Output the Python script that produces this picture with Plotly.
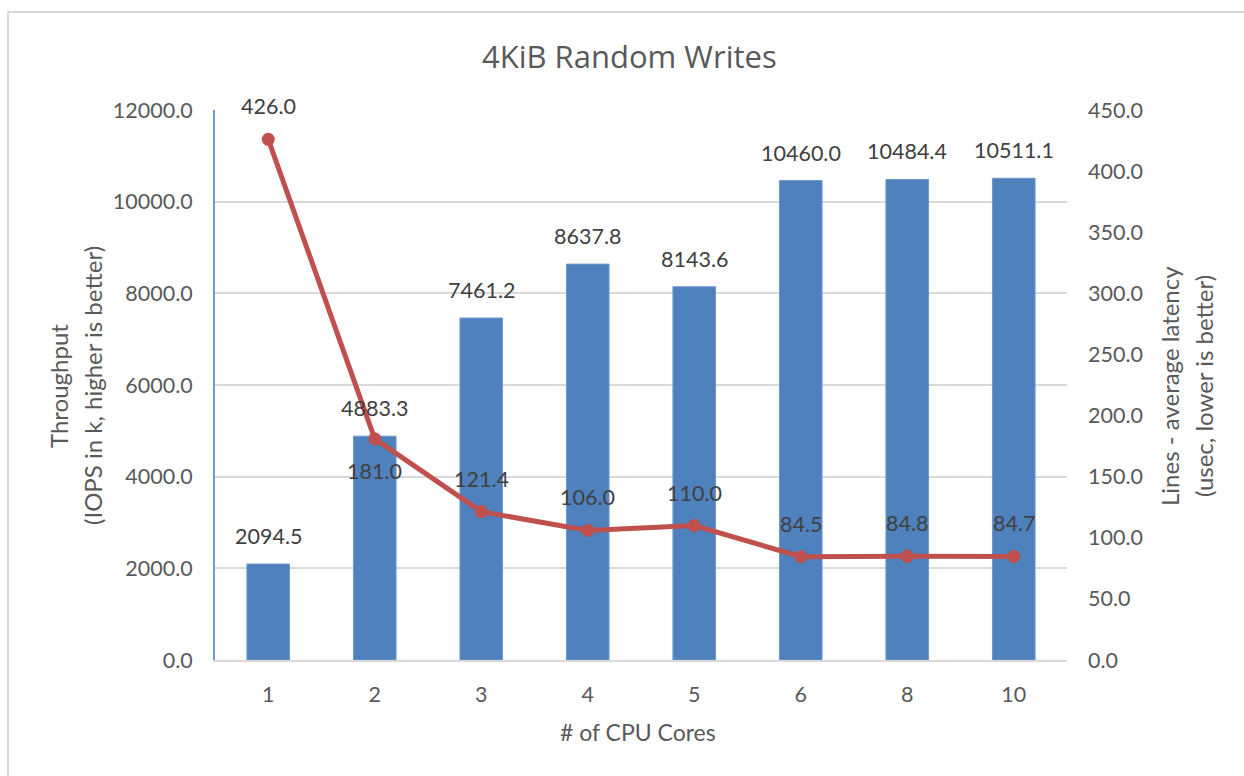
import plotly.graph_objects as go

# Benchmark results: 4KiB random writes vs. number of CPU cores
cores = ["1", "2", "3", "4", "5", "6", "8", "10"]
iops_k = [2094.5, 4883.3, 7461.2, 8637.8, 8143.6, 10460.0, 10484.4, 10511.1]
latency_us = [426.0, 181.0, 121.4, 106.0, 110.0, 84.5, 84.8, 84.7]

left_ticks = [0, 2000, 4000, 6000, 8000, 10000, 12000]
right_ticks = [0, 50, 100, 150, 200, 250, 300, 350, 400, 450]

FONT = "Lato"
TITLE_FONT = "Open Sans"
BAR_COLOR = "#4F81BD"
LINE_COLOR = "#C0504D"
TICK_COLOR = "#595959"
LABEL_COLOR = "#404040"
GRID_COLOR = "#D9D9D9"
TEXT_SIZE = 21.5

# plot-area placement in pixels (page is 1244 x 776)
W, H = 1244, 776
L, R, T, B = 215, 1067, 110, 660


def px_x(p):
    return (p - L) / (R - L)


def px_y(p):
    return (B - p) / (B - T)


fig = go.Figure()

fig.add_trace(go.Bar(
    x=cores, y=iops_k, name="Throughput",
    marker=dict(color=BAR_COLOR, line=dict(color="#6F97CC", width=1)),
    yaxis="y", hoverinfo="x+y",
))

fig.add_trace(go.Scatter(
    x=cores, y=latency_us, name="Latency",
    mode="lines+markers",
    line=dict(color=LINE_COLOR, width=5),
    marker=dict(color=LINE_COLOR, size=13),
    yaxis="y2", hoverinfo="x+y",
))

annotations = []

# value labels above each bar (x given as category index)
for i, v in enumerate(iops_k):
    annotations.append(dict(
        x=i, y=v, xref="x", yref="y", text=f"{v:.1f}",
        showarrow=False, yshift=28, yanchor="middle",
        font=dict(family=FONT, size=TEXT_SIZE, color=LABEL_COLOR),
    ))

# value labels for the latency line (one sits below its point)
below = {1}
for i, v in enumerate(latency_us):
    annotations.append(dict(
        x=i, y=v, xref="x", yref="y2", text=f"{v:.1f}",
        showarrow=False, yshift=-32 if i in below else 33, yanchor="middle",
        font=dict(family=FONT, size=TEXT_SIZE, color=LABEL_COLOR),
    ))

# axis titles, one annotation per line
title_font = dict(family=FONT, size=23, color=TICK_COLOR)
vtitle_font = dict(family=FONT, size=24, color=TICK_COLOR)
for text, px in [("Throughput", 58), ("(IOPS in k, higher is better)", 92)]:
    annotations.append(dict(
        x=px_x(px), y=px_y(386), xref="paper", yref="paper", text=text,
        textangle=-90, showarrow=False, xanchor="center", yanchor="middle",
        font=vtitle_font,
    ))
for text, px in [("Lines - average latency", 1169), ("(usec, lower is better)", 1203)]:
    annotations.append(dict(
        x=px_x(px), y=px_y(386), xref="paper", yref="paper", text=text,
        textangle=-90, showarrow=False, xanchor="center", yanchor="middle",
        font=vtitle_font,
    ))
annotations.append(dict(
    x=px_x(638), y=px_y(732), xref="paper", yref="paper", text="# of CPU Cores",
    showarrow=False, xanchor="center", yanchor="middle", font=title_font,
))
annotations.append(dict(
    x=px_x(629), y=px_y(56), xref="paper", yref="paper", text="4KiB Random Writes",
    showarrow=False, xanchor="center", yanchor="middle",
    font=dict(family=TITLE_FONT, size=31, color=TICK_COLOR),
))

fig.update_layout(
    width=W, height=H,
    margin=dict(l=L, r=W - R, t=T, b=H - B, pad=0),
    paper_bgcolor="white", plot_bgcolor="white",
    showlegend=False,
    bargap=0.6,
    font=dict(family=FONT, color=TICK_COLOR),
    annotations=annotations,
    xaxis=dict(
        type="category", categoryorder="array", categoryarray=cores,
        range=[-0.5, len(cores) - 0.5],
        showline=True, linecolor=GRID_COLOR, linewidth=1.5,
        showgrid=False, ticks="", ticklabelstandoff=14,
        tickfont=dict(family=FONT, size=TEXT_SIZE, color=TICK_COLOR),
        zeroline=False,
    ),
    yaxis=dict(
        range=[0, 12000], tickvals=left_ticks,
        ticktext=[f"{t:.1f}" for t in left_ticks],
        showgrid=True, gridcolor=GRID_COLOR, gridwidth=1.5,
        showline=True, linecolor="#6E9BD2", linewidth=2,
        zeroline=False, ticks="", ticklabelstandoff=16,
        tickfont=dict(family=FONT, size=TEXT_SIZE, color=TICK_COLOR),
    ),
    yaxis2=dict(
        range=[0, 450], tickvals=right_ticks,
        ticktext=[f"{t:.1f}" for t in right_ticks],
        overlaying="y", side="right", showgrid=False, showline=False,
        zeroline=False, ticks="", ticklabelstandoff=20,
        tickfont=dict(family=FONT, size=TEXT_SIZE, color=TICK_COLOR),
    ),
    shapes=[dict(
        type="rect", xref="paper", yref="paper",
        x0=px_x(8), y0=px_y(12), x1=px_x(1300), y1=px_y(840),
        line=dict(color=GRID_COLOR, width=2), fillcolor="rgba(0,0,0,0)",
        layer="below",
    )],
)

fig.write_html("out.html")
